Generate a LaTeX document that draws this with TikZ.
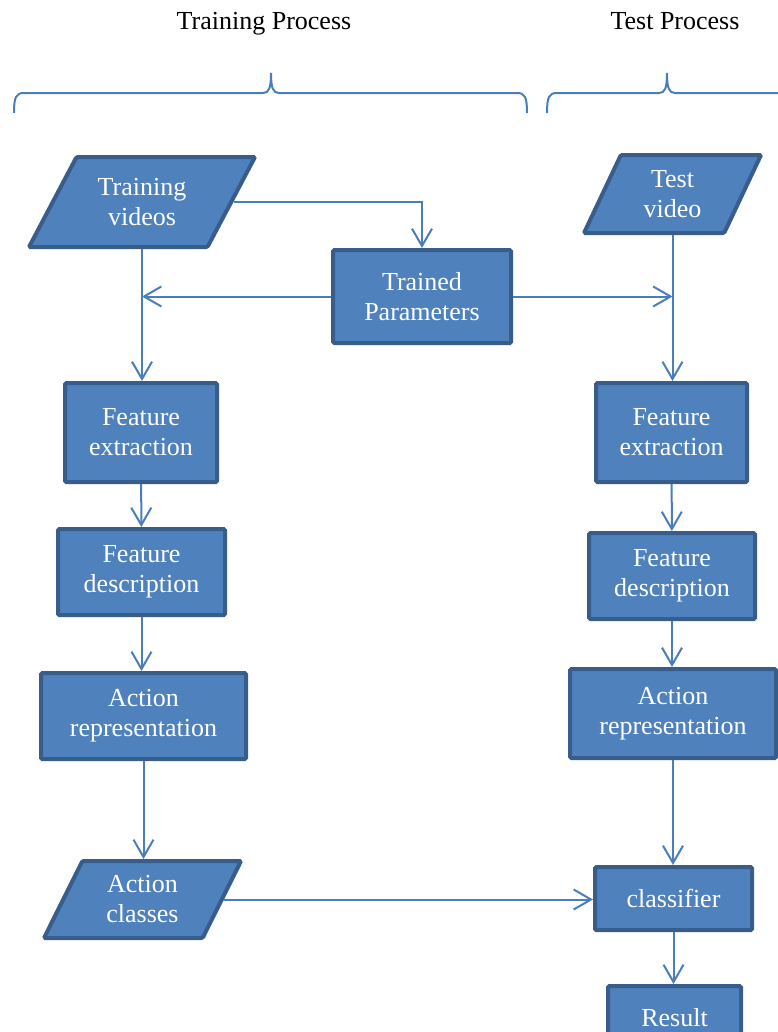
\documentclass[tikz,border=0pt]{standalone}
\usepackage{fontspec}
\setmainfont{Liberation Serif}
\usepackage{xcolor}
\definecolor{boxBlue}{HTML}{4F81BD}
\definecolor{edgeBlue}{HTML}{385D8A}
\definecolor{lineBlue}{HTML}{4A7EBB}
\usetikzlibrary{
    shapes.geometric,
    arrows.meta
}
\tikzset{
    % Base style for all boxes
    flow base/.style={
        font=\fontsize{19.5}{22.5}\selectfont,
        align=center,
        text=white,
        fill=boxBlue,
        draw=edgeBlue,
        line width=3pt,
        inner sep=2pt,
    },
    % Process boxes - plain rectangle
    process/.style={
        flow base,
        rectangle,
        rounded corners=1pt,
    },
    % Data boxes - parallelogram, slant given as argument
    io/.style={
        flow base,
        trapezium,
        trapezium left angle=#1,
        trapezium right angle=180-#1,
        trapezium stretches body,
        rounded corners=1pt,
    },
    io/.default=48,
    % Connector arrow - open barb
    arrow/.style={
        -{Straight Barb[length=13pt, width=15pt]},
        line width=1.5pt,
        draw=lineBlue,
    },
    % Brace over each process
    brace line/.style={
        line width=1.5pt,
        draw=lineBlue,
    },
    % Column titles
    title/.style={
        font=\fontsize{19.5}{22.5}\selectfont,
        text=black,
        anchor=base,
    },
}

\begin{document}
\begin{tikzpicture}[x=0.75pt, y=-0.75pt]
    \useasboundingbox (0,0) rectangle (778,1032);
    \clip (0,0) rectangle (778,1032);

    % titles and braces
    \node (train_title) [title] at (264,29) {Training Process};
    \node (test_title) [title] at (675,29) {Test Process};
    \draw [brace line] (14,113) .. controls (14,97) and (16,93) .. (24,93) -- (263,93)
        .. controls (269,93) and (271,88) .. (271,73)
        .. controls (271,88) and (273,93) .. (279,93) -- (517,93)
        .. controls (525,93) and (527,97) .. (527,113);
    \draw [brace line] (547,113) .. controls (547,97) and (549,93) .. (557,93) -- (659,93)
        .. controls (665,93) and (667,88) .. (667,73)
        .. controls (667,88) and (669,93) .. (675,93) -- (790,93);

    % training column
    \node (train_videos) [io, minimum width=169.5pt, minimum height=67.5pt] at (142,202) {Training\\videos};
    \node (trained_params) [process, minimum width=133.5pt, minimum height=69.75pt] at (422,296.5) {Trained\\Parameters};
    \node (train_extract) [process, minimum width=114pt, minimum height=74.25pt] at (141,432.5) {Feature\\extraction};
    \node (train_describe) [process, minimum width=125.25pt, minimum height=64.5pt] at (141.5,572) {Feature\\description};
    \node (train_represent) [process, minimum width=153.75pt, minimum height=64.5pt] at (143.5,716) {Action\\representation};
    \node (action_classes) [io=54, minimum width=147.75pt, minimum height=57.75pt] at (142.5,899.5) {Action\\classes};

    % test column
    \node (test_video) [io=55, minimum width=132.75pt, minimum height=58.5pt] at (672.5,194) {Test\\video};
    \node (test_extract) [process, minimum width=113.25pt, minimum height=74.25pt] at (671.5,432.5) {Feature\\extraction};
    \node (test_describe) [process, minimum width=124.5pt, minimum height=64.5pt] at (672,576) {Feature\\description};
    \node (test_represent) [process, minimum width=154.5pt, minimum height=66.75pt] at (673,713.5) {Action\\representation};
    \node (classifier) [process, minimum width=117.75pt, minimum height=47.25pt] at (673.5,898.5) {classifier};
    \node (result) [process, minimum width=99.75pt, minimum height=48pt] at (674.5,1018) {Result};

    \draw [arrow] (train_videos.east) -| (trained_params.north);
    \draw [arrow] (trained_params.west) -- (trained_params.west -| train_videos.south);
    \draw [arrow] (trained_params.east) -- (trained_params.east -| test_video.south);
    \draw [arrow] (train_videos.south) -- (train_videos.south |- train_extract.north);
    \draw [arrow] (train_extract) -- (train_describe);
    \draw [arrow] (train_describe.south) -- (train_describe.south |- train_represent.north);
    \draw [arrow] (train_represent.south) -- (train_represent.south |- action_classes.north);
    \draw [arrow] (test_video.south) -- (test_video.south |- test_extract.north);
    \draw [arrow] (test_extract) -- (test_describe);
    \draw [arrow] (test_describe.south) -- (test_describe.south |- test_represent.north);
    \draw [arrow] (test_represent.south) -- (test_represent.south |- classifier.north);
    \draw [arrow] (classifier.south) -- (classifier.south |- result.north);
    \draw [arrow] (action_classes.east) -- (action_classes.east -| classifier.west);
\end{tikzpicture}
\end{document}
